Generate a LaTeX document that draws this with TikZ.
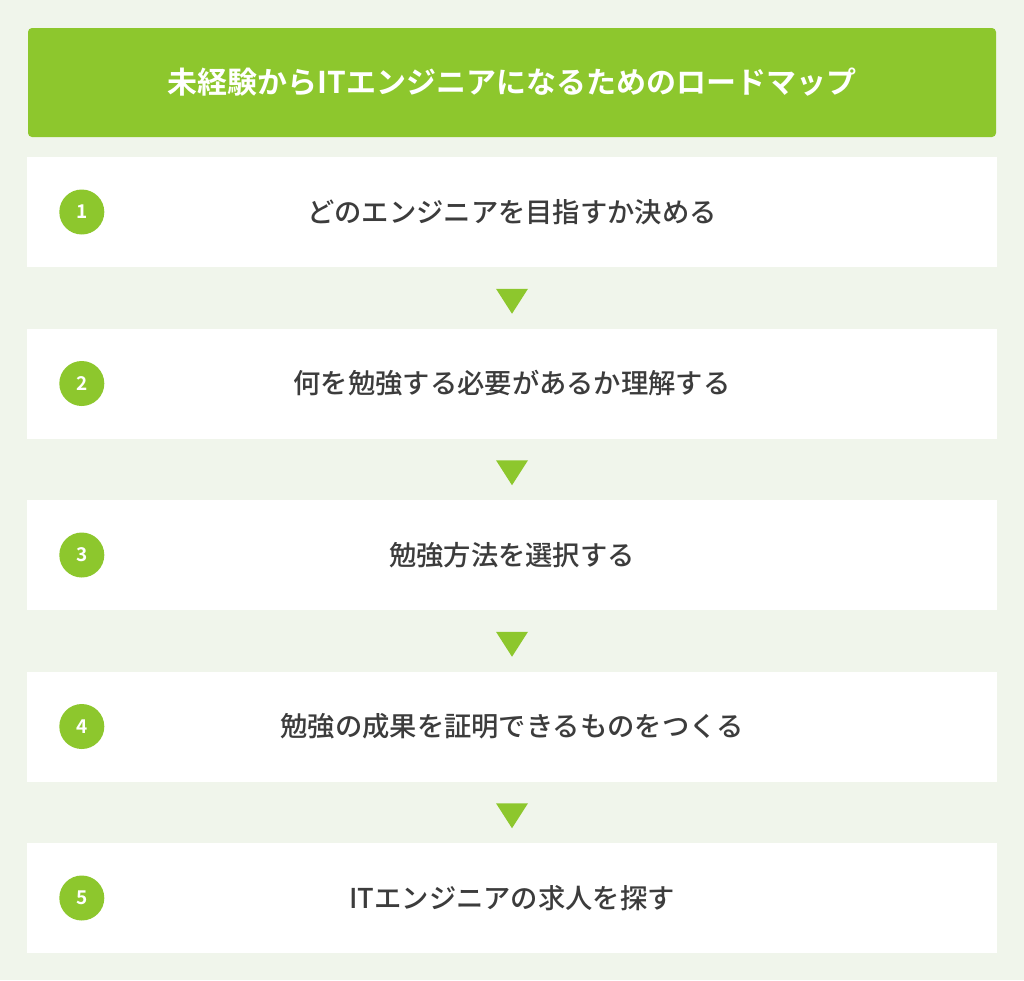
\documentclass[tikz,border=0pt]{standalone}
\usepackage{fontspec}
\setmainfont{Noto Sans CJK JP}[BoldFont={Noto Sans CJK JP Bold}]
\newfontfamily\medfont{Noto Sans CJK JP Medium}
\usepackage{xcolor}
\usepackage{tikz}
\usetikzlibrary{positioning, shapes.geometric}
\definecolor{road_green}{RGB}{141, 199, 45}
\definecolor{road_bg}{RGB}{240, 245, 235}
\definecolor{road_text}{RGB}{60, 60, 60}
\tikzset{
  stepbox/.style={fill=white, minimum width=970pt, minimum height=110pt, inner sep=0pt},
  stepnum/.style={circle, fill=road_green, minimum size=45pt, inner sep=0pt, text=white, font=\bfseries\fontsize{19pt}{19pt}\selectfont},
  steptext/.style={text=road_text, font=\medfont\fontsize{27.3pt}{29pt}\selectfont},
  downmark/.style={isosceles triangle, isosceles triangle apex angle=65, isosceles triangle stretches,
    shape border rotate=270, fill=road_green, minimum height=25pt, minimum width=32pt, inner sep=0pt}
}

\begin{document}
\begin{tikzpicture}[x=1pt, y=-1pt]
  \fill[road_bg] (0,0) rectangle (1024,980);
  \useasboundingbox (0,0) rectangle (1024,980);
  % title
  \node[fill=road_green, rounded corners=4pt, minimum width=968pt, minimum height=109pt, inner sep=0pt,
    text=white, font=\bfseries\fontsize{30pt}{32pt}\selectfont] (title) at (512, 82.5) {未経験からITエンジニアになるためのロードマップ};
  % steps
  \node[stepbox] (step1) at (512, 212)   {};
  \node[stepbox] (step2) at (512, 383.5) {};
  \node[stepbox] (step3) at (512, 555)   {};
  \node[stepbox] (step4) at (512, 726.5) {};
  \node[stepbox] (step5) at (512, 898)   {};
  \foreach \i in {1,...,5} {
    \node[stepnum] (num\i) at ([xshift=55pt]step\i.west) {\i};
  }
  \node[steptext] (txt1) at (step1) {どのエンジニアを目指すか決める};
  \node[steptext] (txt2) at (step2) {何を勉強する必要があるか理解する};
  \node[steptext] (txt3) at (step3) {勉強方法を選択する};
  \node[steptext] (txt4) at (step4) {勉強の成果を証明できるものをつくる};
  \node[steptext] (txt5) at (step5) {ITエンジニアの求人を探す};
  % arrows between steps
  \node[downmark] (arr1) at (512, 297.5) {};
  \node[downmark] (arr2) at (512, 469)   {};
  \node[downmark] (arr3) at (512, 640.5) {};
  \node[downmark] (arr4) at (512, 812)   {};
\end{tikzpicture}
\end{document}
